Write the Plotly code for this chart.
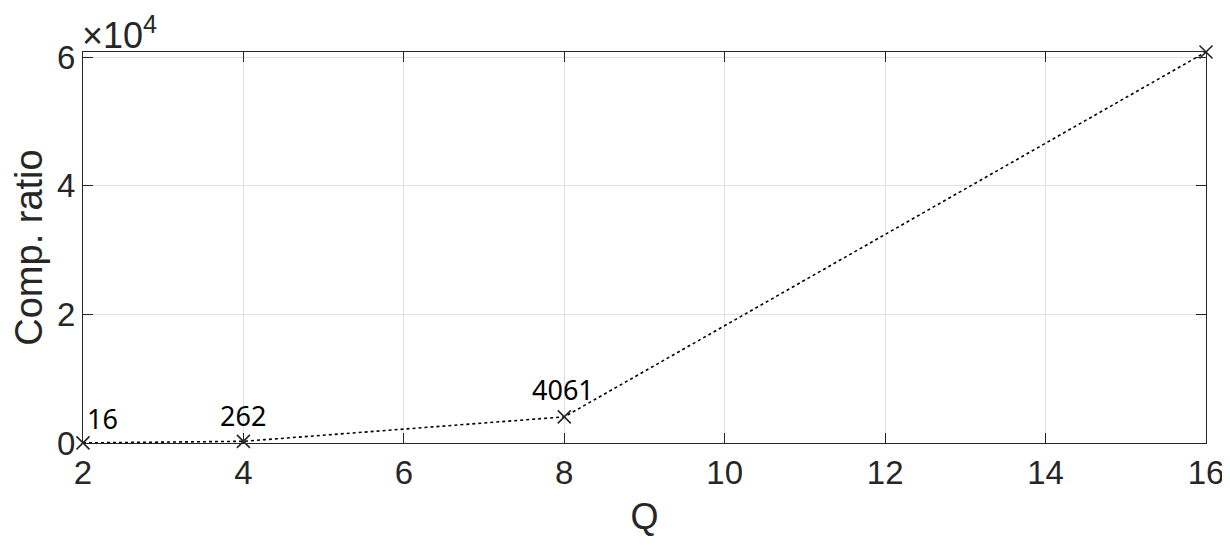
import plotly.graph_objects as go

# Data
q_values = [2, 4, 8, 16]
comp_ratio = [16, 262, 4061, 60777]
label_texts = ["16", "262", "4061"]
x_ticks = [2, 4, 6, 8, 10, 12, 14, 16]
y_ticks = [0, 20000, 40000, 60000]
y_tick_labels = ["0", "2", "4", "6"]
exponent_text = "×10<sup>4</sup>"

AX = "#262626"
TICKFONT = dict(family="Liberation Sans, Arial, sans-serif", size=33, color=AX)

fig = go.Figure()
fig.add_trace(go.Scatter(
    x=q_values, y=comp_ratio, mode="lines+markers",
    line=dict(color="black", width=1.6, dash="dot"),
    marker=dict(symbol="x-thin", size=13, line=dict(color=AX, width=1.6), color=AX),
    showlegend=False, cliponaxis=False,
))

# data labels
label_cfg = [
    dict(xanchor="left", xshift=2, yshift=24),
    dict(xanchor="center", xshift=0, yshift=26),
    dict(xanchor="center", xshift=-1, yshift=27),
]
for xv, yv, t, c in zip(q_values, comp_ratio, label_texts, label_cfg):
    fig.add_annotation(x=xv, y=yv, text=t, showarrow=False,
                       xanchor=c["xanchor"], yanchor="middle",
                       xshift=c["xshift"], yshift=c["yshift"],
                       font=dict(family="Noto Sans, Open Sans, sans-serif", size=27, color="black"))

fig.add_annotation(xref="paper", yref="paper", x=0, y=1, xanchor="left", yanchor="bottom",
                   xshift=-2, yshift=-5, borderpad=0,
                   text=exponent_text, showarrow=False,
                   font=dict(family="Liberation Sans, Arial, sans-serif", size=36, color=AX))

fig.update_xaxes(
    range=[min(q_values), max(q_values)], tickvals=x_ticks, automargin=False,
    ticks="inside", ticklen=10, tickwidth=1, tickcolor=AX,
    showline=True, linecolor=AX, linewidth=1.2, mirror="ticks",
    showgrid=True, gridcolor="#e0e0e0", gridwidth=1, zeroline=False,
    tickfont=TICKFONT,
    title=dict(text="Q", font=dict(family="Liberation Sans, Arial, sans-serif", size=36, color=AX), standoff=14),
)
fig.update_yaxes(
    range=[0, max(comp_ratio)], tickvals=y_ticks, ticktext=y_tick_labels, automargin=False,
    ticks="inside", ticklen=10, tickwidth=1, tickcolor=AX,
    showline=True, linecolor=AX, linewidth=1.2, mirror="ticks",
    showgrid=True, gridcolor="#e0e0e0", gridwidth=1, zeroline=False,
    tickfont=TICKFONT,
    title=dict(text="Comp. ratio", font=dict(family="Liberation Sans, Arial, sans-serif", size=38, color=AX), standoff=8),
)

# page body has an 8px default margin, so the figure is offset by 8px
fig.update_layout(
    width=1222, height=544,
    margin=dict(l=75, r=24, t=44, b=109),
    plot_bgcolor="white", paper_bgcolor="white",
)

fig.write_html("out.html")
